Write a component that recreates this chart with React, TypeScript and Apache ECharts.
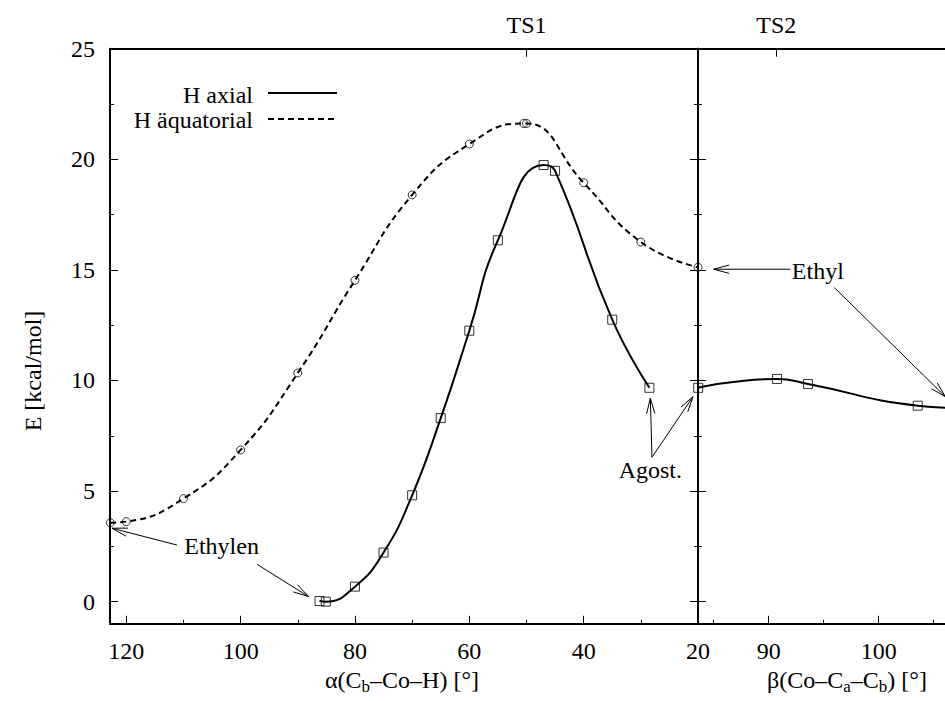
import React, { useEffect, useRef } from 'react';
import * as echarts from 'echarts';

const FONT = 'Liberation Serif, Times New Roman, Times, serif';

// Left panel: alpha(Cb–Co–H) [°]
const axialAlpha = [86.2, 85.1, 80, 75, 70, 65, 60, 55, 47, 45, 35, 28.5];
const axialE = [0.03, 0.0, 0.68, 2.22, 4.81, 8.3, 12.25, 16.34, 19.74, 19.48, 12.75, 9.67];
const aequAlpha = [122.8, 120, 110, 100, 90, 80, 70, 60, 50.5, 50, 40, 30, 20];
const aequE = [3.57, 3.62, 4.66, 6.86, 10.34, 14.53, 18.39, 20.69, 21.62, 21.62, 18.94, 16.26, 15.12];

// Right panel: beta(Co–Ca–Cb) [°]
const betaVals = [83.6, 90.76, 93.58, 103.55, 108];
const betaE = [9.67, 10.07, 9.84, 8.86, 8.74];

// Axis ticks
const alphaMajor = [20, 40, 60, 80, 100, 120];
const alphaMinor = [30, 50, 70, 90, 110];
const betaMajor = [90, 100];
const betaMinor = [85, 95, 105];
const eMajor = [0, 5, 10, 15, 20, 25];
const eMinor = [2.5, 7.5, 12.5, 17.5, 22.5];
const ts1Alpha = [50];
const ts2Beta = [90.7];

// Annotations (data coordinates; panel 0 = alpha, panel 1 = beta)
const labels = [
  { text: 'Ethylen', panel: 0, at: [103.33, 2.52] },
  { text: 'Ethyl', panel: 1, at: [94.47, 14.97] },
  { text: 'Agost.', panel: 0, at: [28.34, 5.95] },
];
const arrows = [
  { panel: 0, from: [111.13, 2.56], to: [122.5, 3.32] },
  { panel: 0, from: [97.14, 1.69], to: [88.11, 0.23] },
  { panel: 1, from: [91.97, 15.03], to: [85.0, 15.03] },
  { panel: 1, from: [95.97, 14.2], to: [106.06, 9.27] },
  { panel: 0, from: [28.05, 6.53], to: [28.34, 9.2] },
  { panel: 0, from: [28.05, 6.53], to: [20.87, 9.27] },
];

const zip = (a: number[], b: number[]) => a.map((v, i) => [v, b[i]]);

export default function App() {
  const ref = useRef<HTMLDivElement>(null);
  useEffect(() => {
    const chart = echarts.init(ref.current!, null, { renderer: 'svg' });
    const black = '#000';
    const lineAx = { show: true, onZero: false, lineStyle: { color: black, width: 2 } };
    const noLine = { show: false, onZero: false };
    const lab = (vals: number[], pos: 'x' | 'y', extra: any = {}) => ({
      show: true,
      customValues: vals,
      color: black,
      fontFamily: FONT,
      fontSize: 24,
      margin: pos === 'x' ? 15 : 15,
      ...extra,
    });
    const tick = (vals: number[], len: number) => ({
      show: true,
      inside: true,
      length: len,
      customValues: vals,
      lineStyle: { color: black, width: 1 },
    });
    const noLab = { show: false };

    const alphaRange = { min: 20, max: 122.85, inverse: true };
    const betaRange = { min: 83.58, max: 106.03 };
    const eRange = { min: -1, max: 25 };

    const base = { type: 'value', splitLine: { show: false } };

    chart.setOption({
      animation: false,
      backgroundColor: '#fff',
      grid: [
        { left: 110, top: 48.7, width: 588, height: 575.1 },
        { left: 698, top: 48.7, width: 247, height: 575.1 },
      ],
      xAxis: [
        { ...base, ...alphaRange, gridIndex: 0, position: 'bottom', axisLine: lineAx, axisTick: tick(alphaMajor, 8), axisLabel: lab(alphaMajor, 'x') },
        { ...base, ...alphaRange, gridIndex: 0, position: 'bottom', axisLine: noLine, axisTick: tick(alphaMinor, 4), axisLabel: noLab },
        { ...base, ...alphaRange, gridIndex: 0, position: 'top', axisLine: lineAx, axisTick: tick(ts1Alpha, 8), axisLabel: lab(ts1Alpha, 'x', { margin: 12, formatter: () => 'TS1' }) },
        { ...base, ...betaRange, gridIndex: 1, position: 'bottom', axisLine: lineAx, axisTick: tick(betaMajor, 8), axisLabel: lab(betaMajor, 'x') },
        { ...base, ...betaRange, gridIndex: 1, position: 'bottom', axisLine: noLine, axisTick: tick(betaMinor, 4), axisLabel: noLab },
        { ...base, ...betaRange, gridIndex: 1, position: 'top', axisLine: lineAx, axisTick: tick(ts2Beta, 8), axisLabel: lab(ts2Beta, 'x', { margin: 12, formatter: () => 'TS2' }) },
      ],
      yAxis: [
        { ...base, ...eRange, gridIndex: 0, position: 'left', axisLine: lineAx, axisTick: tick(eMajor, 8), axisLabel: lab(eMajor, 'y') },
        { ...base, ...eRange, gridIndex: 0, position: 'left', axisLine: noLine, axisTick: tick(eMinor, 4), axisLabel: noLab },
        { ...base, ...eRange, gridIndex: 0, position: 'right', axisLine: lineAx, axisTick: tick(eMajor, 8), axisLabel: noLab },
        { ...base, ...eRange, gridIndex: 0, position: 'right', axisLine: noLine, axisTick: tick(eMinor, 4), axisLabel: noLab },
        { ...base, ...eRange, gridIndex: 1, position: 'left', axisLine: lineAx, axisTick: tick(eMajor, 8), axisLabel: noLab },
        { ...base, ...eRange, gridIndex: 1, position: 'left', axisLine: noLine, axisTick: tick(eMinor, 4), axisLabel: noLab },
      ],
      series: [
        {
          name: 'H axial', type: 'line', xAxisIndex: 0, yAxisIndex: 0, smooth: 0.5, symbol: 'none',
          lineStyle: { color: black, width: 2 }, data: zip(axialAlpha, axialE), z: 2,
        },
        {
          name: 'H axial points', type: 'scatter', xAxisIndex: 0, yAxisIndex: 0, symbol: 'rect', symbolSize: 9,
          itemStyle: { color: 'rgba(0,0,0,0)', borderColor: black, borderWidth: 1 }, data: zip(axialAlpha, axialE), z: 3,
        },
        {
          name: 'H äquatorial', type: 'line', xAxisIndex: 0, yAxisIndex: 0, smooth: 0.5, symbol: 'none',
          lineStyle: { color: black, width: 2, type: [6, 4] }, data: zip(aequAlpha, aequE), z: 2,
        },
        {
          name: 'H äquatorial points', type: 'scatter', xAxisIndex: 0, yAxisIndex: 0, symbol: 'circle', symbolSize: 8,
          itemStyle: { color: 'rgba(0,0,0,0)', borderColor: black, borderWidth: 1 }, data: zip(aequAlpha, aequE), z: 3,
        },
        {
          name: 'H axial (beta)', type: 'line', xAxisIndex: 3, yAxisIndex: 4, smooth: 0.5, symbol: 'none', clip: true,
          lineStyle: { color: black, width: 2 }, data: zip(betaVals, betaE), z: 2,
        },
        {
          name: 'H axial (beta) points', type: 'scatter', xAxisIndex: 3, yAxisIndex: 4, symbol: 'rect', symbolSize: 9, clip: true,
          itemStyle: { color: 'rgba(0,0,0,0)', borderColor: black, borderWidth: 1 }, data: zip(betaVals, betaE), z: 3,
        },
      ],
    });

    const toPx = (panel: number, p: number[]) =>
      chart.convertToPixel(panel === 0 ? { xAxisIndex: 0, yAxisIndex: 0 } : { xAxisIndex: 3, yAxisIndex: 4 }, p) as number[];

    const textStyle = { fill: black, fontSize: 24, fontFamily: FONT };
    const graphics: any[] = [];

    labels.forEach((l) => {
      const [x, y] = toPx(l.panel, l.at);
      graphics.push({ type: 'text', x, y, z: 10, style: { ...textStyle, text: l.text, align: 'center', verticalAlign: 'middle' } });
    });

    const headLen = 16;
    const headAng = (15 * Math.PI) / 180;
    arrows.forEach((a) => {
      const [sx, sy] = toPx(a.panel, a.from);
      const [tx, ty] = toPx(a.panel, a.to);
      const ang = Math.atan2(ty - sy, tx - sx);
      const p1 = [tx - headLen * Math.cos(ang - headAng), ty - headLen * Math.sin(ang - headAng)];
      const p2 = [tx - headLen * Math.cos(ang + headAng), ty - headLen * Math.sin(ang + headAng)];
      graphics.push({ type: 'line', z: 10, shape: { x1: sx, y1: sy, x2: tx, y2: ty }, style: { stroke: black, lineWidth: 1 } });
      graphics.push({ type: 'polyline', z: 10, shape: { points: [p1, [tx, ty], p2] }, style: { stroke: black, lineWidth: 1, fill: null } });
    });

    // Key (gnuplot style)
    graphics.push({ type: 'text', x: 253, y: 95, z: 10, style: { ...textStyle, text: 'H axial', align: 'right', verticalAlign: 'middle' } });
    graphics.push({ type: 'line', z: 10, shape: { x1: 268, y1: 93, x2: 337, y2: 93 }, style: { stroke: black, lineWidth: 2 } });
    graphics.push({ type: 'text', x: 253, y: 120, z: 10, style: { ...textStyle, text: 'H äquatorial', align: 'right', verticalAlign: 'middle' } });
    graphics.push({ type: 'line', z: 10, shape: { x1: 268, y1: 119, x2: 337, y2: 119 }, style: { stroke: black, lineWidth: 2, lineDash: [6, 4] } });

    // Axis titles
    graphics.push({
      type: 'text', x: 33, y: 371, rotation: Math.PI / 2, z: 10,
      style: { ...textStyle, text: 'E [kcal/mol]', align: 'center', verticalAlign: 'middle' },
    });
    const rich = {
      n: { fontSize: 24, fontFamily: FONT, fill: black },
      s: { fontSize: 17, fontFamily: FONT, fill: black, padding: [12, 0, 0, 0] },
    };
    graphics.push({
      type: 'text', x: 402, y: 680, z: 10,
      style: { text: '{n|α(C}{s|b}{n|–Co–H) [°]}', rich, align: 'center', verticalAlign: 'middle' },
    });
    graphics.push({
      type: 'text', x: 847, y: 680, z: 10,
      style: { text: '{n|β(Co–C}{s|a}{n|–C}{s|b}{n|) [°]}', rich, align: 'center', verticalAlign: 'middle' },
    });

    chart.setOption({ graphic: graphics });

    return () => chart.dispose();
  }, []);
  return <div ref={ref} style={{ position: 'fixed', left: 0, top: 0, width: 945, height: 701 }} />;
}
